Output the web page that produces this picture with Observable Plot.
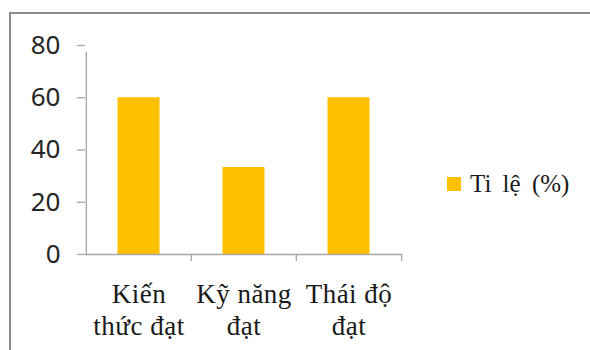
<!DOCTYPE html>
<html>
<head>
<meta charset="utf-8">
<script src="https://cdn.jsdelivr.net/npm/d3@7"></script>
<script src="https://cdn.jsdelivr.net/npm/@observablehq/plot@0.6"></script>
<style>
  html, body { margin: 0; padding: 0; background: #fff; }
  #wrap { position: relative; width: 590px; height: 350px; overflow: hidden; background: #fff; }
  #frame { position: absolute; left: 9px; top: 12px; width: 700px; height: 500px;
           border-left: 2px solid #8c8c8c; border-top: 2px solid #8c8c8c; box-sizing: border-box; }
  #chart { position: absolute; left: 0; top: 0; }
  #legend { position: absolute; left: 447px; top: 170.8px; display: flex; align-items: flex-start;
            font-family: "Liberation Serif", "Times New Roman", serif; font-size: 25px; line-height: 1;
            word-spacing: 5px; color: #1a1a1a; white-space: nowrap; }
  #legend .sw { width: 14px; height: 14px; background: #FFC000; margin-top: 6.2px; margin-right: 9px; }
  #chart [aria-label="x-axis tick label"] text { letter-spacing: 0.5px; }
</style>
</head>
<body>
<div id="wrap">
  <div id="frame"></div>
  <div id="chart"></div>
  <div id="legend"><div class="sw"></div><span id="legtext"></span></div>
</div>
<script>
const categories = ["Kiến\nthức đạt", "Kỹ năng\nđạt", "Thái độ\nđạt"];
const values = [60, 33.3, 60];
const yTicks = [0, 20, 40, 60, 80];
const seriesName = "Ti lệ (%)";

const data = categories.map((c, i) => ({cat: c, value: values[i]}));

const W = 590, H = 350, mL = 85, mR = 189, mT = 45, mB = 96;
const bw = (W - mL - mR) / categories.length;
const axisColor = "#a6a6a6";

const plot = Plot.plot({
  width: W, height: H,
  marginLeft: mL, marginRight: mR, marginTop: mT, marginBottom: mB,
  style: {background: "transparent", overflow: "visible"},
  x: {domain: categories, padding: 0, axis: null},
  y: {domain: [0, 80], axis: null},
  marks: [
    Plot.barY(data, {x: "cat", y: "value", fill: "#FFC000", insetLeft: 31.5, insetRight: 31.5}),
    Plot.ruleY([0], {stroke: axisColor, strokeWidth: 1.3}),
    Plot.ruleX([categories[0]], {dx: -bw / 2, y1: 0, y2: 80, insetBottom: -7, stroke: axisColor, strokeWidth: 1.3}),
    Plot.ruleX(categories.slice(1), {dx: -bw / 2, y1: 0, y2: 0, insetBottom: -7, stroke: axisColor, strokeWidth: 1.3}),
    Plot.ruleX([categories[categories.length - 1]], {dx: bw / 2, y1: 0, y2: 0, insetBottom: -7, stroke: axisColor, strokeWidth: 1.3}),
    Plot.axisY({ticks: yTicks, tickSize: 8, tickPadding: 17, stroke: axisColor, fill: "#262626",
                fontSize: 26, fontFamily: "Noto Sans, sans-serif", label: null, strokeWidth: 1.3}),
    Plot.axisX({tickSize: 0, tickPadding: 25, fill: "#1a1a1a", fontSize: 27, lineHeight: 1.2,
                fontFamily: "'Liberation Serif', 'Times New Roman', serif", label: null})
  ]
});
document.getElementById("chart").appendChild(plot);
document.getElementById("legtext").textContent = seriesName;
</script>
</body>
</html>
